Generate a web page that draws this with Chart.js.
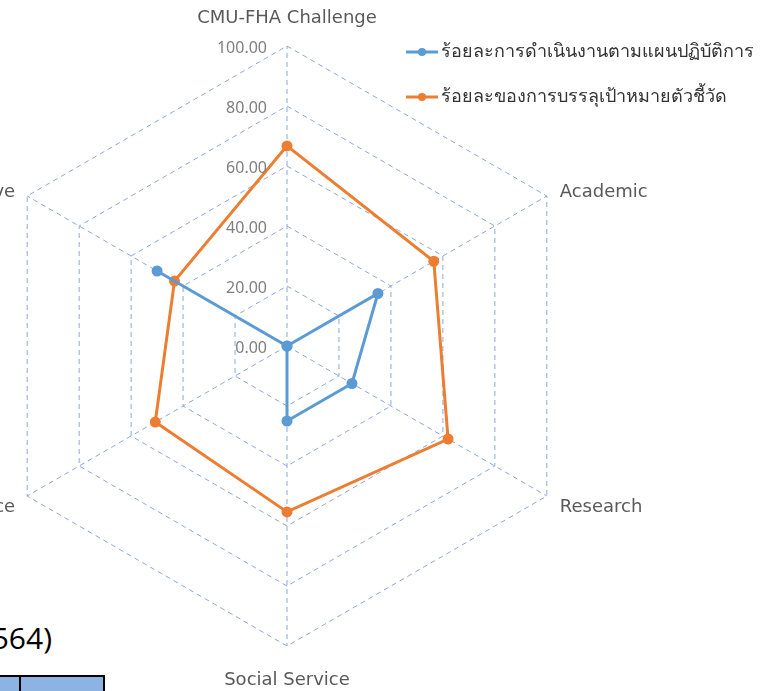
<!DOCTYPE html>
<html>
<head>
<meta charset="utf-8">
<script src="https://cdn.jsdelivr.net/npm/chart.js@4.4.0/dist/chart.umd.min.js"></script>
<style>
  html, body { margin: 0; padding: 0; background: #fff; width: 771px; height: 691px; overflow: hidden; position: relative; }
  /* morceaux du document derrière le graphique */
  #doc-title { position: absolute; right: 719px; top: 615px; font: 30px "Open Sans", sans-serif; color: #000; white-space: nowrap; }
  #doc-table { position: absolute; left: -2px; top: 675px; border-collapse: collapse; }
  #doc-table td { background: #8db3e2; border: 2px solid #000; height: 30px; padding: 0; }
  #chart { position: absolute; left: -100px; top: 0; }
</style>
</head>
<body>
<div id="doc-title">ผลการดำเนินงาน (ปีงบประมาณ 2564)</div>
<table id="doc-table"><tr><td style="width:19px"></td><td style="width:82px"></td></tr></table>
<canvas id="chart" width="871" height="691"></canvas>
<script>
// Données du graphique
const categories = ['CMU-FHA Challenge', 'Academic', 'Research', 'Social Service', 'Arts & Culture Maintenance', 'Administrative'];
const seriesNames = ['ร้อยละการดำเนินงานตามแผนปฏิบัติการ', 'ร้อยละของการบรรลุเป้าหมายตัวชี้วัด'];
const planValues = [0, 35, 25, 25, 0, 50];
const targetValues = [66.7, 56.5, 62, 55.3, 50.7, 43.3];
const tickValues = [0, 20, 40, 60, 80, 100];

const colorBlue = '#5b9bd5';
const colorOrange = '#ed7d31';
const gridColor = '#8aa8dc';
const OFFSET_X = 100; // le canvas est décalé à gauche

// Étiquettes des graduations (à gauche de l'axe vertical)
const tickLabelsPlugin = {
    id: 'tickLabels',
    afterDraw(chart) {
        const scale = chart.scales.r;
        const ctx = chart.ctx;
        ctx.save();
        ctx.font = '16px "Noto Sans", sans-serif';
        ctx.fillStyle = '#7f7f7f';
        ctx.textAlign = 'right';
        ctx.textBaseline = 'middle';
        tickValues.forEach((v) => {
            const d = scale.getDistanceFromCenterForValue(v);
            ctx.fillText(v.toFixed(2), scale.xCenter - 20, scale.yCenter - d + 2);
        });
        ctx.restore();
    }
};

// Étiquettes des catégories
const pointLabelsPlugin = {
    id: 'myPointLabels',
    afterDraw(chart) {
        const scale = chart.scales.r;
        const ctx = chart.ctx;
        ctx.save();
        ctx.font = '18px "DejaVu Sans", sans-serif';
        ctx.fillStyle = '#595959';
        ctx.textBaseline = 'middle';
        categories.forEach((label, i) => {
            const pos = scale.getPointPosition(i, scale.drawingArea);
            const dx = pos.x - scale.xCenter;
            const dy = pos.y - scale.yCenter;
            let x = pos.x, y = pos.y;
            if (Math.abs(dx) < 1) {
                ctx.textAlign = 'center';
                y += dy < 0 ? -28 : 34;
            } else {
                ctx.textAlign = dx > 0 ? 'left' : 'right';
                x += dx > 0 ? 13 : -12;
                y += dy < 0 ? -4 : 11;
            }
            ctx.fillText(label, x, y);
        });
        ctx.restore();
    }
};

// Légende dessinée à la main
const legendPlugin = {
    id: 'myLegend',
    afterDraw(chart) {
        const ctx = chart.ctx;
        ctx.save();
        chart.data.datasets.forEach((ds, i) => {
            const y = 52 + i * 45;
            const x0 = 406 + OFFSET_X;
            ctx.strokeStyle = ds.borderColor;
            ctx.lineWidth = 3;
            ctx.beginPath();
            ctx.moveTo(x0, y);
            ctx.lineTo(x0 + 32, y);
            ctx.stroke();
            ctx.fillStyle = ds.borderColor;
            ctx.beginPath();
            ctx.arc(x0 + 16, y, 4, 0, Math.PI * 2);
            ctx.fill();
            ctx.font = '18px "Noto Sans", sans-serif';
            ctx.fillStyle = '#333333';
            ctx.textAlign = 'left';
            ctx.textBaseline = 'middle';
            ctx.fillText(ds.label, x0 + 35, y);
        });
        ctx.restore();
    }
};

new Chart(document.getElementById('chart').getContext('2d'), {
    type: 'radar',
    data: {
        labels: categories,
        datasets: [{
            label: seriesNames[0],
            data: planValues,
            borderColor: colorBlue,
            backgroundColor: colorBlue,
            pointBackgroundColor: colorBlue,
            pointBorderColor: colorBlue,
            borderWidth: 3,
            pointRadius: 4,
            fill: false
        }, {
            label: seriesNames[1],
            data: targetValues,
            borderColor: colorOrange,
            backgroundColor: colorOrange,
            pointBackgroundColor: colorOrange,
            pointBorderColor: colorOrange,
            borderWidth: 3,
            pointRadius: 4,
            fill: false
        }]
    },
    options: {
        responsive: false,
        animation: false,
        layout: { padding: { left: 87, right: 184, top: 46, bottom: 45 } },
        plugins: {
            legend: { display: false },
            tooltip: { enabled: false }
        },
        scales: {
            r: {
                min: 0,
                max: 100,
                ticks: { stepSize: 20, display: false },
                pointLabels: { display: false },
                grid: { color: gridColor, lineWidth: 1, borderDash: [5, 4] },
                border: { dash: [5, 4] },
                angleLines: { color: gridColor, lineWidth: 1, borderDash: [5, 4] }
            }
        }
    },
    plugins: [tickLabelsPlugin, pointLabelsPlugin, legendPlugin]
});
</script>
</body>
</html>
